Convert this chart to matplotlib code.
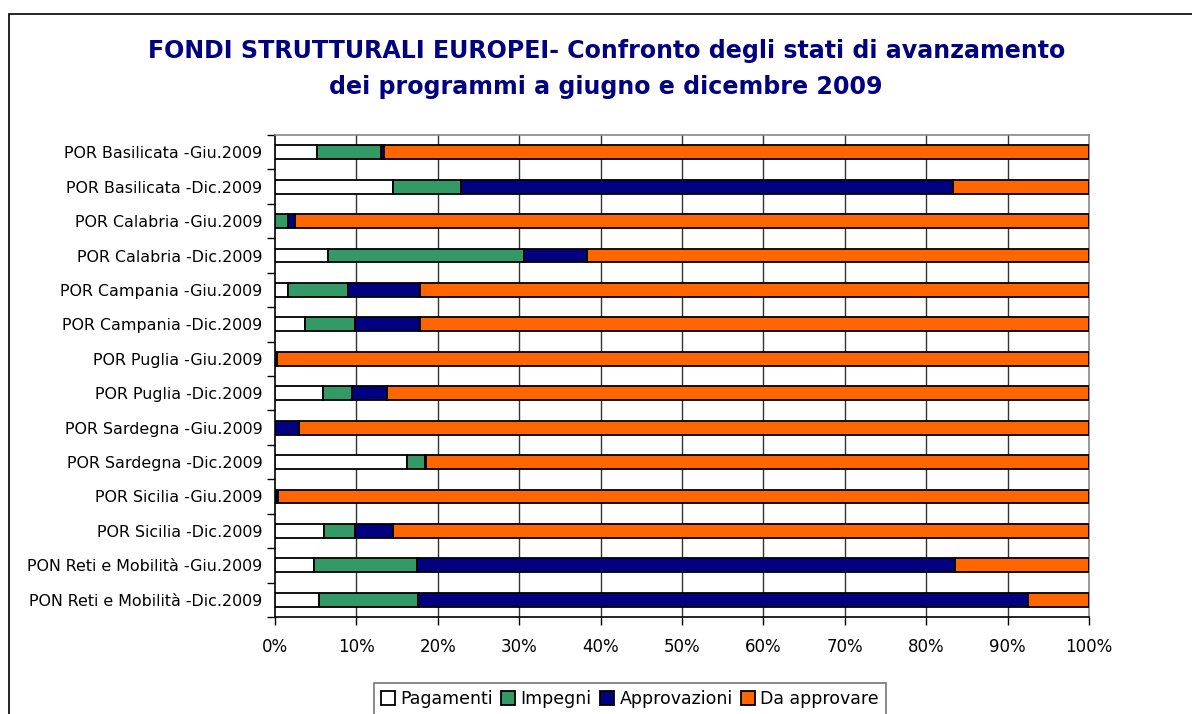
import matplotlib
matplotlib.use("Agg")
import matplotlib.pyplot as plt
import numpy as np
from matplotlib.patches import Rectangle

plt.rcParams['font.family'] = ['DejaVu Sans']

programmi = [
    "POR Basilicata -Giu.2009",
    "POR Basilicata -Dic.2009",
    "POR Calabria -Giu.2009",
    "POR Calabria -Dic.2009",
    "POR Campania -Giu.2009",
    "POR Campania -Dic.2009",
    "POR Puglia -Giu.2009",
    "POR Puglia -Dic.2009",
    "POR Sardegna -Giu.2009",
    "POR Sardegna -Dic.2009",
    "POR Sicilia -Giu.2009",
    "POR Sicilia -Dic.2009",
    "PON Reti e Mobilità -Giu.2009",
    "PON Reti e Mobilità -Dic.2009",
]

# percentages
pagamenti    = [5.1, 14.5, 0.0, 6.5, 1.6, 3.7, 0.0, 5.9, 0.0, 16.2, 0.0, 6.0, 4.8, 5.4]
impegni      = [7.9, 8.4, 1.6, 24.1, 7.4, 6.1, 0.3, 3.6, 0.0, 2.2, 0.1, 3.8, 12.6, 12.2]
approvazioni = [0.4, 60.4, 0.8, 7.7, 8.8, 8.0, 0.0, 4.3, 2.9, 0.2, 0.3, 4.7, 66.1, 74.9]
da_approvare = [100 - a - b - c for a, b, c in zip(pagamenti, impegni, approvazioni)]

serie = ["Pagamenti", "Impegni", "Approvazioni", "Da approvare"]
colori = ["#FFFFFF", "#339966", "#000080", "#FF6600"]

fig = plt.figure(figsize=(11.92, 7.14), dpi=100)
fig.patches.append(Rectangle((9 / 1192, -0.1), 1.2, 1 - 14 / 714 + 0.1,
                             transform=fig.transFigure, fill=False,
                             edgecolor="black", linewidth=1.2))

ax = fig.add_axes([275 / 1192, 1 - 617 / 714, (1089 - 275) / 1192, (617 - 135) / 714])

y = np.arange(len(programmi))
left = np.zeros(len(programmi))
for nome, valori, col in zip(serie, [pagamenti, impegni, approvazioni, da_approvare], colori):
    ax.barh(y, valori, left=left, height=0.4, color=col, edgecolor="black",
            linewidth=1.3, label=nome, zorder=3)
    left += np.array(valori)

ax.set_xlim(0, 100)
ax.set_ylim(len(programmi) - 0.5, -0.5)

ax.set_xticks(np.arange(0, 101, 10))
ax.set_xticklabels([f"{v}%" for v in range(0, 101, 10)], fontsize=12)
ax.tick_params(axis="x", length=6, width=1, pad=9, direction="out")
for v in range(10, 100, 10):
    ax.axvline(v, color="#333333", linewidth=1, zorder=1)

ax.set_yticks(y)
ax.set_yticklabels(programmi, fontsize=11.4)
ax.set_yticks(np.arange(-0.5, len(programmi), 1), minor=True)
ax.tick_params(axis="y", which="major", length=0, pad=9)
ax.tick_params(axis="y", which="minor", length=6, width=1)

ax.spines["top"].set_color("#888888")
ax.spines["right"].set_color("#888888")
ax.spines["left"].set_color("black")
ax.spines["bottom"].set_color("black")
for s in ax.spines.values():
    s.set_linewidth(1.2)

fig.text(607 / 1192, 1 - 51 / 714,
         "FONDI STRUTTURALI EUROPEI- Confronto degli stati di avanzamento",
         ha="center", va="center", fontsize=17.1, fontweight="bold", color="#000080")
fig.text(606 / 1192, 1 - 87 / 714, "dei programmi a giugno e dicembre 2009",
         ha="center", va="center", fontsize=17.1, fontweight="bold", color="#000080")

leg = fig.legend(loc="center", bbox_to_anchor=(630 / 1192, 1 - 699 / 714), ncol=4,
                 fontsize=12.5, frameon=True, fancybox=False, edgecolor="#555555",
                 handlelength=0.8, handleheight=0.8, handletextpad=0.3,
                 columnspacing=0.5, borderpad=0.4)
leg.get_frame().set_linewidth(1.2)

fig.savefig("out.png", dpi=100)
